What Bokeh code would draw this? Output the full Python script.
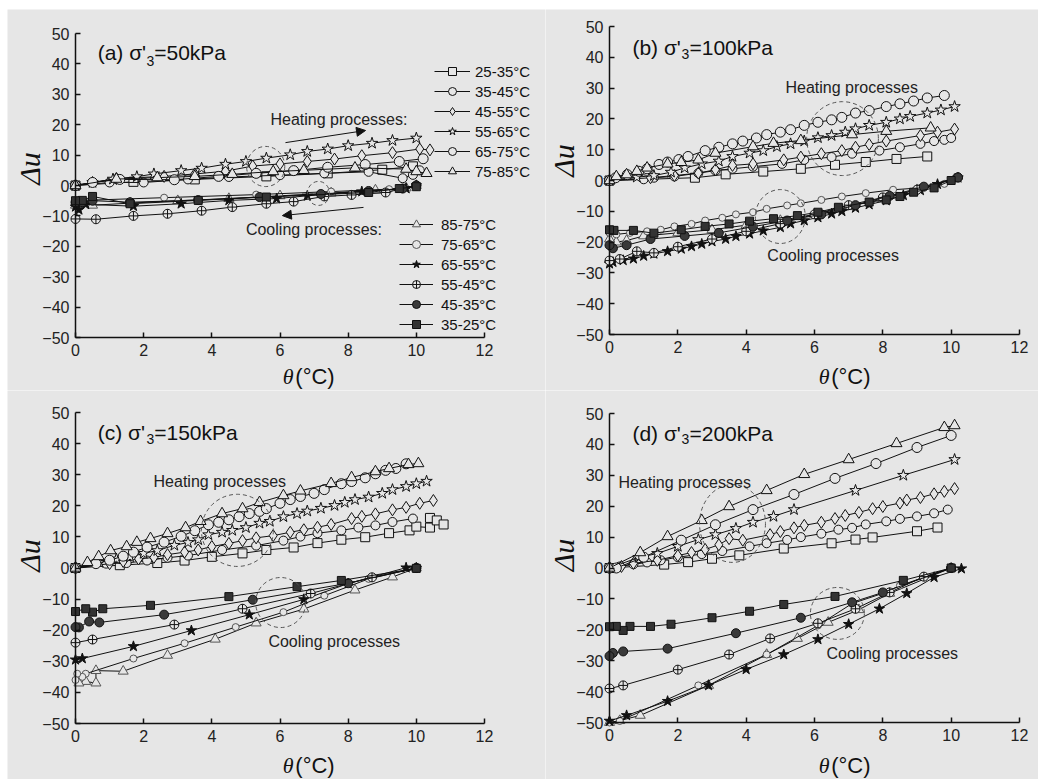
from math import pi
from bokeh.plotting import figure
from bokeh.models import Range1d, FixedTicker, Label, Legend, LegendItem, Arrow, NormalHead
from bokeh.layouts import row, column
from bokeh.embed import file_html
from bokeh.resources import INLINE

# ---------------- data ----------------
X_TICKS = [0, 2, 4, 6, 8, 10, 12]
Y_TICKS = [-50, -40, -30, -20, -10, 0, 10, 20, 30, 40, 50]
HEAT_LABELS = ["25-35°C", "35-45°C", "45-55°C", "55-65°C", "65-75°C", "75-85°C"]
COOL_LABELS = ["85-75°C", "75-65°C", "65-55°C", "55-45°C", "45-35°C", "35-25°C"]
PANEL_TITLES = ["(a) σ'", "(b) σ'", "(c) σ'", "(d) σ'"]
PANEL_STRESS = ["=50kPa", "=100kPa", "=150kPa", "=200kPa"]

# (a) 50 kPa - heating
A_H25_X = [0, 1.7, 3.5, 5.6, 7.4, 9.0, 9.9]
A_H25_Y = [0, 1.2, 2.0, 3.0, 4.0, 5.2, 6.3]
A_H35_X = [0, 1.0, 2.0, 3.3, 4.5, 6.0, 7.3, 8.6, 9.6, 9.9, 10.1]
A_H35_Y = [0, 1.0, 1.0, 2.0, 2.8, 3.4, 4.0, 4.5, 2.4, 3.5, 5.0]
A_H45_X = [0, 1.2, 2.6, 3.5, 4.4, 5.2, 6.0, 6.8, 7.6, 8.4, 9.3, 10.1, 10.4]
A_H45_Y = [0, 2.3, 3.0, 3.8, 4.7, 6.4, 7.1, 7.9, 8.7, 9.8, 10.8, 12.0, 11.7]
A_H55_X = [0, 0.5, 1.1, 1.8, 2.3, 3.1, 3.7, 4.4, 5.0, 5.6, 6.3, 6.8, 7.4, 8.0, 8.7, 9.3, 10.0]
A_H55_Y = [0, 1.0, 2.1, 2.9, 3.8, 4.9, 5.7, 7.0, 7.9, 9.0, 10.1, 11.2, 12.0, 13.1, 13.9, 14.8, 15.6]
A_H65_X = [0, 0.5, 1.3, 2.9, 4.2, 5.3, 6.4, 7.4, 8.5, 9.5, 10.2]
A_H65_Y = [0, 1.0, 2.0, 1.9, 3.0, 4.0, 4.9, 6.0, 6.9, 7.9, 8.8]
A_H75_X = [0, 1.2, 2.4, 3.5, 4.6, 5.8, 6.7, 8.2, 9.7, 10.0, 10.3]
A_H75_Y = [0, 2.1, 2.6, 3.0, 3.7, 4.6, 5.0, 5.8, 5.4, 4.6, 4.0]
# (a) cooling
A_C85_X = [10.0, 9.7, 8.8, 7.5, 6.0, 4.5, 3.0, 1.6, 0.5, 0.2, 0]
A_C85_Y = [0, -0.8, -1.5, -2.5, -3.4, -4.3, -5.0, -5.8, -6.5, -6.0, -6.5]
A_C75_X = [10.0, 9.6, 9.2, 7.5, 5.3, 2.6, 0.5, 0]
A_C75_Y = [0, -0.8, -1.2, -2.0, -3.0, -4.0, -4.8, -5.0]
A_C65_X = [10.0, 9.7, 8.4, 6.8, 5.9, 4.5, 3.1, 1.7, 0.3, 0.1, 0]
A_C65_Y = [0, -1.0, -2.0, -3.4, -4.3, -4.9, -6.0, -6.8, -6.2, -8.0, -7.0]
A_C55_X = [10.0, 9.1, 8.1, 7.3, 6.4, 5.6, 4.6, 3.7, 2.7, 1.7, 0.6, 0]
A_C55_Y = [0, -2.3, -3.1, -3.6, -5.3, -6.0, -7.1, -8.3, -9.3, -10.0, -11.1, -11.0]
A_C45_X = [10.0, 9.6, 8.6, 7.2, 5.4, 3.6, 1.6, 0.5, 0.2, 0]
A_C45_Y = [0, -1.0, -1.8, -2.8, -3.8, -4.8, -5.5, -5.0, -5.5, -5.5]
A_C35_X = [10.0, 9.5, 8.6, 5.6, 3.6, 1.6, 0.5, 0.2, 0]
A_C35_Y = [-0.4, -1.0, -2.3, -3.8, -4.9, -6.0, -3.6, -4.9, -5.0]

# (b) 100 kPa - heating
B_H25_X = [0, 2.5, 3.4, 4.5, 5.6, 6.6, 7.5, 8.4, 9.3]
B_H25_Y = [0, 0.9, 2.0, 2.9, 3.8, 5.1, 6.0, 7.0, 7.8]
B_H35_X = [0, 1.0, 1.3, 1.9, 2.6, 3.1, 3.6, 4.2, 5.05, 5.7, 6.5, 7.1, 7.9, 8.5, 9.1, 9.5, 9.8, 10.0]
B_H35_Y = [0, 0.4, 0.9, 1.3, 2.4, 3.2, 3.8, 4.5, 5.4, 6.7, 7.6, 8.7, 9.7, 10.8, 11.9, 12.8, 13.2, 13.8]
B_H45_X = [0, 1.2, 1.9, 2.6, 3.1, 3.6, 4.2, 5.1, 5.6, 6.2, 6.8, 7.2, 7.6, 8.1, 9.1, 9.6, 10.1]
B_H45_Y = [0, 0.9, 1.6, 2.4, 3.5, 4.9, 5.4, 6.7, 7.6, 8.7, 9.7, 10.8, 11.7, 12.8, 14.6, 15.7, 16.7]
B_H55_X = [0, 0.8, 1.3, 1.8, 2.2, 2.7, 3.2, 3.6, 4.1, 4.5, 4.9, 5.3, 5.7, 6.1, 6.5, 6.9, 7.2, 7.6, 8.1, 8.5, 8.8, 9.3, 9.7, 10.1]
B_H55_Y = [0, 1.1, 1.6, 2.7, 4.1, 5.4, 6.3, 7.8, 8.9, 9.7, 11.0, 11.9, 12.8, 13.9, 14.6, 15.7, 16.8, 17.9, 18.9, 20.0, 20.8, 21.9, 22.9, 24.0]
B_H65_X = [0, 0.18, 0.52, 0.86, 1.1, 1.45, 1.7, 2.03, 2.3, 2.8, 3.2, 3.6, 3.9, 4.3, 4.6, 5.0, 5.3, 5.7, 6.1, 6.5, 6.8, 7.2, 7.6, 8.1, 8.5, 8.9, 9.3, 9.8]
B_H65_Y = [0, 0.9, 1.9, 3.0, 3.8, 5.2, 6.0, 6.8, 7.8, 9.7, 10.8, 11.9, 12.8, 13.8, 14.9, 15.7, 16.5, 17.9, 18.9, 19.7, 20.5, 21.9, 22.7, 24.0, 24.9, 25.8, 26.8, 27.6]
B_H75_X = [0, 0.2, 0.5, 0.8, 1.1, 1.7, 2.1, 2.6, 3.1, 4.2, 4.8, 5.6, 7.1, 8.1, 9.4]
B_H75_Y = [0, 1.3, 1.9, 3.0, 4.1, 5.4, 5.9, 6.7, 8.9, 11.0, 12.1, 13.0, 14.9, 16.0, 17.1]
# (b) cooling
B_C85_X = [10.1, 9.0, 8.0, 7.0, 6.0, 5.0, 4.0, 3.0, 2.0, 1.0, 0.5, 0.2, 0]
B_C85_Y = [0.5, -3.0, -6.0, -8.5, -11.0, -13.0, -14.5, -16.0, -17.0, -18.0, -19.5, -20.0, -19.0]
B_C75_X = [10.2, 9.8, 9.1, 8.3, 7.5, 6.8, 6.2, 5.6, 5.2, 4.6, 4.2, 3.7, 3.3, 2.8, 2.4, 1.9, 1.5, 1.1, 0.6, 0.2, 0]
B_C75_Y = [1.1, -1.1, -2.4, -3.0, -4.1, -5.2, -6.3, -7.4, -8.1, -9.2, -10.3, -11.0, -12.1, -13.0, -14.1, -14.9, -16.0, -16.5, -17.0, -17.5, -17.0]
B_C65_X = [10.2, 9.6, 9.1, 8.6, 8.1, 7.6, 7.2, 6.8, 6.5, 6.1, 5.7, 5.3, 5.0, 4.5, 4.1, 3.7, 3.4, 3.0, 2.7, 2.4, 2.1, 1.7, 1.3, 1.0, 0.7, 0.4, 0.1, 0]
B_C65_Y = [0.9, -1.2, -3.2, -4.8, -6.5, -7.8, -8.9, -10.0, -10.8, -12.0, -13.0, -14.0, -15.2, -16.3, -17.3, -18.1, -19.0, -19.8, -20.6, -21.4, -22.2, -23.0, -23.8, -24.5, -25.4, -25.9, -26.5, -27.0]
B_C55_X = [10.2, 9.0, 8.0, 7.0, 6.0, 5.0, 4.0, 3.0, 2.0, 1.3, 0.8, 0.3, 0]
B_C55_Y = [1.0, -3.0, -5.5, -8.0, -11.0, -14.0, -16.5, -19.0, -21.5, -23.5, -23.0, -25.5, -26.0]
B_C45_X = [10.2, 9.2, 8.2, 7.2, 6.2, 5.2, 4.2, 3.2, 2.2, 1.2, 0.5, 0.1, 0]
B_C45_Y = [1.0, -2.0, -5.0, -8.0, -11.0, -13.0, -15.0, -17.0, -18.0, -19.0, -21.0, -22.0, -21.0]
B_C35_X = [10.0, 9.5, 8.9, 8.5, 8.1, 7.6, 6.7, 6.1, 5.5, 4.8, 4.1, 3.5, 2.8, 2.1, 1.3, 0.7, 0.13, 0]
B_C35_Y = [0, -2.4, -3.8, -5.2, -6.3, -7.0, -8.7, -10.3, -11.4, -12.4, -13.2, -14.1, -14.9, -16.0, -17.1, -16.2, -16.2, -16.0]

# (c) 150 kPa - heating
C_H25_X = [0, 1.3, 2.4, 3.2, 4.0, 4.9, 5.6, 6.4, 7.1, 7.8, 8.5, 9.2, 9.8, 10.0, 10.4, 10.4, 10.6, 10.8]
C_H25_Y = [0, 0.9, 1.6, 2.4, 3.6, 4.7, 5.8, 6.6, 8.0, 9.1, 9.9, 11.2, 12.1, 13.3, 13.0, 16.1, 15.3, 14.0]
C_H35_X = [0, 0.9, 1.5, 2.1, 2.7, 3.3, 4.3, 5.3, 6.1, 6.6, 7.1, 7.8, 8.3, 8.8, 9.3, 9.9]
C_H35_Y = [0, 1.4, 1.6, 2.4, 3.3, 4.0, 5.8, 7.2, 8.8, 10.1, 11.2, 12.1, 13.0, 13.7, 14.8, 15.9]
C_H45_X = [0, 1.0, 1.4, 1.85, 2.3, 2.7, 3.2, 3.6, 4.0, 4.5, 4.9, 5.3, 5.8, 6.3, 6.7, 7.1, 7.5, 8.1, 8.4, 8.8, 9.3, 9.7, 10.1, 10.5]
C_H45_Y = [0, 1.4, 2.1, 2.9, 3.4, 4.3, 5.1, 5.8, 6.9, 7.9, 8.8, 9.7, 10.4, 11.5, 12.3, 13.1, 14.0, 15.9, 16.6, 17.4, 18.7, 19.5, 20.8, 21.7]
C_H55_X = [0, 0.7, 1.2, 1.6, 2.0, 2.4, 2.9, 3.3, 3.6, 3.9, 4.3, 4.6, 5.0, 5.4, 5.7, 6.1, 6.5, 6.8, 7.2, 7.6, 7.9, 8.2, 8.6, 9.0, 9.3, 9.7, 10.0, 10.3]
C_H55_Y = [0, 1.8, 2.9, 3.6, 4.7, 5.6, 7.3, 8.2, 9.1, 10.7, 11.5, 12.1, 13.0, 14.4, 15.0, 16.5, 17.5, 18.3, 19.2, 20.1, 21.1, 22.0, 22.8, 24.0, 25.2, 26.2, 27.1, 27.9]
C_H65_X = [0, 0.6, 1.0, 1.4, 1.7, 2.1, 2.6, 3.1, 3.5, 3.9, 4.2, 4.5, 4.8, 5.1, 5.4, 5.6, 6.0, 6.3, 6.6, 7.0, 7.3, 7.8, 8.1, 8.5, 8.8, 9.1, 9.4, 9.7]
C_H65_Y = [0, 1.4, 2.5, 3.8, 5.1, 6.7, 8.3, 10.2, 12.0, 13.9, 14.7, 15.5, 16.5, 17.5, 18.2, 19.1, 20.8, 22.0, 23.0, 24.0, 25.2, 27.1, 27.8, 29.0, 30.3, 31.4, 32.0, 33.5]
C_H75_X = [0, 0.35, 0.68, 1.03, 1.5, 1.8, 2.2, 2.7, 3.23, 3.67, 4.3, 4.9, 5.4, 6.1, 6.6, 7.5, 8.1, 8.8, 9.2, 9.77, 10.06]
C_H75_Y = [0, 1.8, 3.7, 5.6, 6.9, 8.3, 9.5, 11.1, 13.0, 15.0, 17.5, 19.1, 21.1, 23.3, 24.8, 27.2, 29.1, 31.0, 32.0, 33.3, 33.6]
# (c) cooling
C_C85_X = [10.0, 9.3, 8.2, 6.7, 5.3, 4.1, 2.7, 1.4, 0.6, 0.6, 0.3, 0.1]
C_C85_Y = [0, -2.9, -7.1, -13.2, -17.7, -22.9, -28.1, -33.2, -33.0, -37.0, -36.5, -37.0]
C_C75_X = [10.0, 8.6, 7.3, 6.1, 4.7, 3.2, 1.7, 0.3, 0.2, 0.05, 0]
C_C75_Y = [0, -3.5, -8.9, -14.2, -19.0, -24.2, -29.1, -34.0, -35.0, -34.0, -36.0]
C_C65_X = [10.0, 9.7, 8.0, 6.7, 5.1, 3.4, 1.7, 0.2, 0]
C_C65_Y = [0, 0.1, -5.0, -10.1, -15.0, -20.1, -25.2, -29.1, -29.5]
C_C55_X = [10.0, 8.7, 6.9, 4.9, 2.9, 0.5, 0]
C_C55_Y = [0, -3.0, -8.2, -13.1, -18.2, -23.0, -24.0]
C_C45_X = [10.0, 8.0, 5.2, 2.6, 0.7, 0.4, 0.1, 0]
C_C45_Y = [0, -4.9, -10.2, -15.0, -17.5, -17.2, -19.1, -19.0]
C_C35_X = [10.0, 7.8, 6.5, 4.5, 2.2, 0.8, 0.5, 0.3, 0]
C_C35_Y = [-0.1, -4.0, -6.0, -9.2, -12.0, -13.1, -14.2, -13.1, -14.0]

# (d) 200 kPa - heating
D_H25_X = [0, 1.6, 2.3, 3.0, 3.8, 5.1, 6.5, 7.2, 7.7, 9.0, 9.6]
D_H25_Y = [0, 1.1, 1.9, 3.0, 4.1, 6.3, 8.0, 9.2, 9.9, 11.9, 13.1]
D_H35_X = [0, 0.3, 0.7, 1.1, 1.5, 2.0, 2.7, 3.3, 4.1, 4.6, 5.2, 5.6, 6.2, 6.7, 7.1, 7.5, 8.1, 8.5, 9.0, 9.5, 9.9]
D_H35_Y = [0, 0.5, 1.2, 1.8, 2.5, 3.5, 4.5, 5.5, 7.0, 8.0, 9.1, 10.0, 11.1, 12.4, 13.0, 14.1, 15.1, 15.9, 16.7, 17.7, 18.9]
D_H45_X = [0, 0.35, 0.7, 1.4, 2.0, 2.4, 2.8, 3.2, 3.5, 3.9, 4.7, 5.0, 5.4, 5.7, 6.2, 6.6, 6.9, 7.3, 7.7, 8.0, 8.5, 8.7, 9.1, 9.5, 9.8, 10.1]
D_H45_Y = [0, 0.5, 1.5, 2.5, 4.0, 5.0, 6.0, 7.5, 9.5, 9.0, 10.8, 11.8, 13.0, 13.8, 14.8, 16.0, 17.0, 18.0, 19.2, 19.9, 21.0, 22.0, 22.8, 24.0, 24.8, 25.7]
D_H55_X = [0, 0.85, 1.4, 2.0, 2.6, 3.1, 3.7, 4.2, 4.8, 5.4, 7.2, 8.6, 10.1]
D_H55_Y = [0, 3.4, 4.7, 7.0, 9.2, 10.8, 12.8, 14.8, 16.7, 18.9, 25.1, 30.0, 35.1]
D_H65_X = [0, 0.2, 1.0, 2.1, 3.1, 4.2, 5.4, 6.6, 7.8, 9.0, 10.0]
D_H65_Y = [0, 0, 3.5, 9.0, 14.0, 18.9, 23.8, 29.0, 33.8, 39.0, 42.9]
D_H75_X = [0, 0.9, 1.7, 2.7, 3.5, 4.6, 5.7, 7.0, 8.4, 9.8, 10.1]
D_H75_Y = [0, 5.0, 10.2, 15.4, 19.9, 25.1, 30.3, 35.1, 40.3, 45.5, 46.1]
# (d) cooling
D_C85_X = [10.0, 8.2, 7.3, 6.4, 5.5, 4.6, 2.9, 0.9, 0.3, 0]
D_C85_Y = [0, -8.2, -13.5, -17.6, -22.8, -28.0, -38.0, -47.7, -49.4, -50.0]
D_C75_X = [10.0, 8.5, 8.0, 7.1, 6.1, 4.6, 2.6, 0.3, 0]
D_C75_Y = [0, -5.7, -8.2, -11.5, -18.6, -28.0, -38.0, -49.5, -50.0]
D_C65_X = [10.3, 9.5, 8.7, 7.9, 7.0, 6.1, 5.1, 4.0, 2.9, 1.7, 0.5, 0]
D_C65_Y = [-0.2, -3.0, -8.2, -13.2, -18.2, -23.1, -28.0, -32.8, -38.0, -43.1, -47.7, -49.5]
D_C55_X = [10.0, 9.2, 8.2, 7.2, 6.1, 4.7, 3.5, 2.0, 0.4, 0]
D_C55_Y = [0, -2.8, -7.9, -13.2, -17.9, -22.8, -28.0, -32.9, -38.0, -39.0]
D_C45_X = [10.0, 8.0, 7.1, 5.6, 3.7, 1.7, 0.4, 0.1, 0]
D_C45_Y = [0, -7.9, -11.1, -16.1, -21.1, -26.1, -27.0, -27.5, -28.5]
D_C35_X = [10.0, 8.6, 6.6, 5.1, 4.1, 3.0, 1.8, 1.2, 0.6, 0.4, 0.2, 0]
D_C35_Y = [0, -4.0, -9.2, -11.8, -14.0, -16.1, -18.2, -18.9, -18.9, -20.2, -18.9, -19.0]

# ---------------- styles ----------------
BG = "#e6e6e6"
INK = "#111111"
GREY = "#555555"
FONT = "Liberation Sans"
SERIF = "Liberation Serif"

HEAT_STYLES = [
    dict(marker="square", size=9, line=INK, fill=BG),
    dict(marker="circle", size=9, line=INK, fill=BG),
    dict(marker="diamond", size=12, line=INK, fill=BG),
    dict(marker="star", size=12, line=INK, fill=BG),
    dict(marker="circle", size=10, line=INK, fill=BG),
    dict(marker="triangle", size=11, line=INK, fill=BG),
]
COOL_STYLES = [
    dict(marker="triangle", size=10, line=GREY, fill=BG),
    dict(marker="circle", size=7, line=GREY, fill=BG),
    dict(marker="star", size=11, line=INK, fill=INK),
    dict(marker="circle_cross", size=9, line=INK, fill=BG),
    dict(marker="circle", size=9, line=INK, fill="#3a3a3a"),
    dict(marker="square", size=8, line=INK, fill="#333333"),
]


def make_fig(width, height, left, right, top, bottom):
    # the axes sit at fixed locations inside a frame that fills the whole figure,
    # so labels placed around the axes are never clipped
    fw = width - left - right
    fh = height - top - bottom
    sx = 12.0 / fw
    sy = 100.0 / fh
    p = figure(width=width, height=height,
               x_range=Range1d(-left * sx, 12 + right * sx),
               y_range=Range1d(-50 - bottom * sy, 50 + top * sy),
               output_backend="svg", toolbar_location=None,
               min_border=0, min_border_left=0, min_border_right=0,
               min_border_top=0, min_border_bottom=0,
               background_fill_color=BG, border_fill_color=BG, outline_line_color=None)
    p.grid.visible = False
    p.xaxis.ticker = FixedTicker(ticks=X_TICKS)
    p.yaxis.ticker = FixedTicker(ticks=Y_TICKS)
    p.xaxis.fixed_location = -50
    p.yaxis.fixed_location = 0
    p.xaxis.bounds = (0, 12)
    p.yaxis.bounds = (-50, 50)
    for ax in (p.xaxis[0], p.yaxis[0]):
        ax.axis_line_color = INK
        ax.axis_line_width = 1.5
        ax.major_tick_line_color = INK
        ax.major_tick_line_width = 1.5
        ax.major_tick_in = 5
        ax.major_tick_out = 0
        ax.minor_tick_line_color = None
        ax.major_label_text_font = FONT
        ax.major_label_text_font_size = "16px"
        ax.major_label_text_color = "#222222"
        ax.major_label_standoff = 6
    return p


def draw_series(p, xs, ys, st):
    ln = p.line(xs, ys, line_color=INK, line_width=1)
    sc = p.scatter(xs, ys, marker=st["marker"], size=st["size"], line_color=st["line"],
                   fill_color=st["fill"], line_width=1)
    return [ln, sc]


def decorate(p, idx, tx, ty, sx, sy, dv, thx, thy, heat_txt, cool_txt, ells):
    # title with subscript
    p.add_layout(Label(x=tx, y=ty, text=PANEL_TITLES[idx], text_font=FONT, text_font_size="21px",
                       text_color=INK, text_baseline="alphabetic"))
    p.add_layout(Label(x=sx, y=sy, text="3", text_font=FONT, text_font_size="14px",
                       text_color=INK, text_baseline="alphabetic"))
    p.add_layout(Label(x=sx + 0.23, y=ty, text=PANEL_STRESS[idx], text_font=FONT, text_font_size="21px",
                       text_color=INK, text_baseline="alphabetic"))
    # axis titles
    p.add_layout(Label(x=-1.35, y=dv, text="Δu", angle=pi / 2, text_font=SERIF, text_font_style="italic",
                       text_font_size="30px", text_color=INK, text_align="center", text_baseline="middle"))
    p.add_layout(Label(x=thx, y=thy, text="θ", text_font=SERIF, text_font_style="italic",
                       text_font_size="22px", text_color=INK, text_align="right", text_baseline="middle"))
    p.add_layout(Label(x=thx + 0.05, y=thy, text="(°C)", text_font=FONT,
                       text_font_size="22px", text_color=INK, text_align="left", text_baseline="middle"))
    for (x, y, t) in (heat_txt, cool_txt):
        p.add_layout(Label(x=x, y=y, text=t, text_font=FONT, text_font_size="16px", text_color="#222222",
                           text_baseline="middle"))
    for (cx, cy, w, h) in ells:
        p.ellipse(x=[cx], y=[cy], width=w, height=h, fill_color=None, line_color=GREY,
                  line_dash="4 3", line_width=1)


def panel(p, heat, cool):
    hr = [draw_series(p, xs, ys, st) for (xs, ys), st in zip(heat, HEAT_STYLES)]
    cr = [draw_series(p, xs, ys, st) for (xs, ys), st in zip(cool, COOL_STYLES)]
    return hr, cr


pa = make_fig(538, 381, 68, 61, 24, 53)
pb = make_fig(493, 381, 64, 19, 17, 56)
pc = make_fig(538, 389, 68, 61, 22, 56)
pd = make_fig(493, 389, 64, 19, 23, 57)

a_h, a_c = panel(pa, [(A_H25_X, A_H25_Y), (A_H35_X, A_H35_Y), (A_H45_X, A_H45_Y),
                      (A_H55_X, A_H55_Y), (A_H65_X, A_H65_Y), (A_H75_X, A_H75_Y)],
                 [(A_C85_X, A_C85_Y), (A_C75_X, A_C75_Y), (A_C65_X, A_C65_Y),
                  (A_C55_X, A_C55_Y), (A_C45_X, A_C45_Y), (A_C35_X, A_C35_Y)])
panel(pb, [(B_H25_X, B_H25_Y), (B_H35_X, B_H35_Y), (B_H45_X, B_H45_Y),
           (B_H55_X, B_H55_Y), (B_H65_X, B_H65_Y), (B_H75_X, B_H75_Y)],
      [(B_C85_X, B_C85_Y), (B_C75_X, B_C75_Y), (B_C65_X, B_C65_Y),
       (B_C55_X, B_C55_Y), (B_C45_X, B_C45_Y), (B_C35_X, B_C35_Y)])
panel(pc, [(C_H25_X, C_H25_Y), (C_H35_X, C_H35_Y), (C_H45_X, C_H45_Y),
           (C_H55_X, C_H55_Y), (C_H65_X, C_H65_Y), (C_H75_X, C_H75_Y)],
      [(C_C85_X, C_C85_Y), (C_C75_X, C_C75_Y), (C_C65_X, C_C65_Y),
       (C_C55_X, C_C55_Y), (C_C45_X, C_C45_Y), (C_C35_X, C_C35_Y)])
panel(pd, [(D_H25_X, D_H25_Y), (D_H35_X, D_H35_Y), (D_H45_X, D_H45_Y),
           (D_H55_X, D_H55_Y), (D_H65_X, D_H65_Y), (D_H75_X, D_H75_Y)],
      [(D_C85_X, D_C85_Y), (D_C75_X, D_C75_Y), (D_C65_X, D_C65_Y),
       (D_C55_X, D_C55_Y), (D_C45_X, D_C45_Y), (D_C35_X, D_C35_Y)])

decorate(pa, 0, 0.65, 43.7, 2.08, 41.1, 5.6, 6.40, -62.8,
         (5.72, 21.7, "Heating processes:"), (5.0, -14.5, "Cooling processes:"),
         [(5.58, 6.25, 1.12, 13.2), (7.13, -2.6, 0.65, 7.9)])
decorate(pb, 1, 0.67, 43.2, 2.11, 41.2, 6.5, 6.44, -63.6,
         (5.15, 30.2, "Heating processes"), (4.62, -24.4, "Cooling processes"),
         [(6.82, 13.6, 2.1, 24.0), (5.0, -11.7, 1.46, 17.5)])
decorate(pc, 2, 0.65, 43.6, 2.08, 41.6, 4.0, 6.40, -63.5,
         (2.29, 27.8, "Heating processes"), (5.66, -23.6, "Cooling processes"),
         [(4.75, 12.1, 2.11, 23.2), (6.02, -11.1, 1.47, 16.1)])
decorate(pd, 3, 0.67, 43.5, 2.11, 41.6, 4.2, 6.44, -63.9,
         (0.26, 27.7, "Heating processes"), (6.35, -27.7, "Cooling processes"),
         [(3.6, 14.4, 1.93, 25.2), (6.67, -14.7, 1.58, 16.8)])

# arrows in panel (a)
pa.add_layout(Arrow(x_start=6.16, y_start=14.1, x_end=8.51, y_end=18.1, line_color=INK, line_width=1,
                    end=NormalHead(size=9, fill_color=INK, line_color=INK)))
pa.add_layout(Arrow(x_start=8.45, y_start=-7.2, x_end=6.07, y_end=-9.9, line_color=INK, line_width=1,
                    end=NormalHead(size=9, fill_color=INK, line_color=INK)))

leg_h = Legend(items=[LegendItem(label=l, renderers=r) for l, r in zip(HEAT_LABELS, a_h)],
               location=(427, 209), orientation="vertical", padding=0, margin=0, spacing=0,
               glyph_width=36, glyph_height=20, label_height=20, label_standoff=5,
               label_text_font=FONT, label_text_font_size="15px", label_text_color=INK,
               background_fill_alpha=0, border_line_alpha=0)
leg_c = Legend(items=[LegendItem(label=l, renderers=r) for l, r in zip(COOL_LABELS, a_c)],
               location=(392, 56), orientation="vertical", padding=0, margin=0, spacing=0,
               glyph_width=34, glyph_height=20, label_height=20, label_standoff=8,
               label_text_font=FONT, label_text_font_size="15px", label_text_color=INK,
               background_fill_alpha=0, border_line_alpha=0)
pa.add_layout(leg_h)
pa.add_layout(leg_c)

layout = column(row(pa, pb), row(pc, pd))
layout.margin = (9, 0, 0, 7)

open("out.html", "w").write(file_html(layout, INLINE))
